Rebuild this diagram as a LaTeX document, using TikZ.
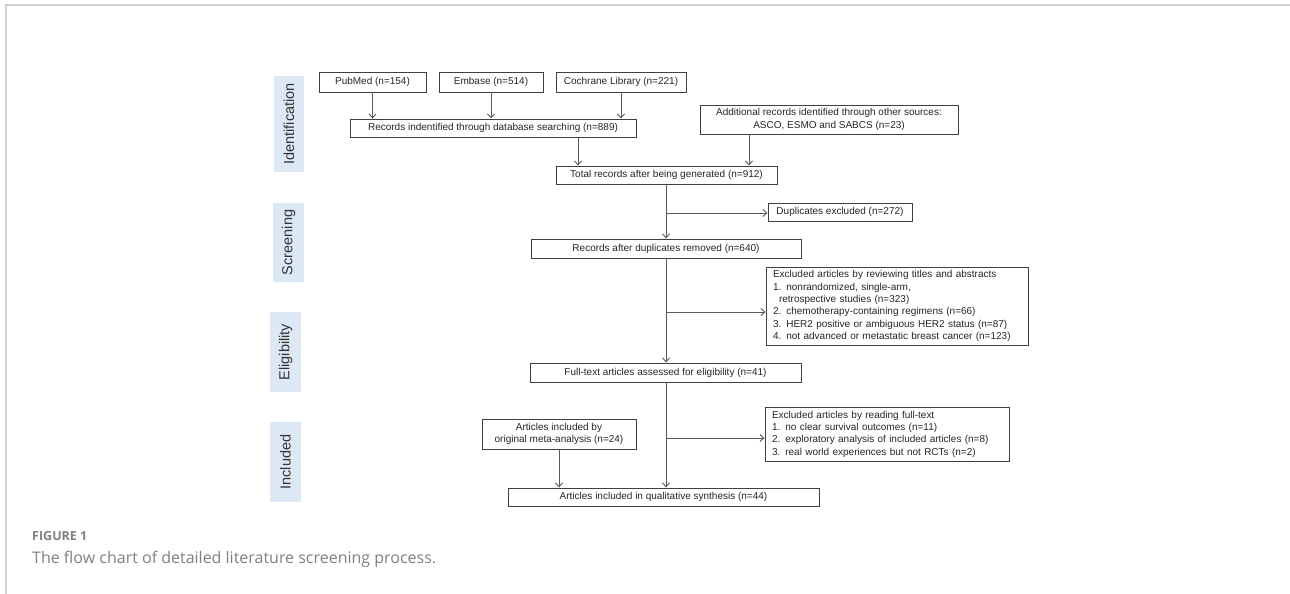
\documentclass[tikz,border=0pt]{standalone}
\usepackage{fontspec}
\setmainfont{Liberation Sans}
\newfontfamily\capfont{Open Sans}
\usetikzlibrary{arrows.meta}
\definecolor{phaseblue}{RGB}{221,232,245}
\definecolor{framegray}{RGB}{208,208,208}
\definecolor{capgray}{RGB}{128,128,128}
\begin{document}
\begin{tikzpicture}[x=1pt,y=-1pt,
  box/.style={draw=black!75,line width=0.9pt,fill=white,inner sep=0pt,align=center,
    font=\fontsize{10}{12.3}\selectfont,text=black!85},
  lbox/.style={box,align=left,inner xsep=7pt},
  conn/.style={draw=black!65,line width=0.9pt},
  arr/.style={conn,-{Straight Barb[length=4pt,width=7pt]}},
  phasebox/.style={fill=phaseblue,draw=none,inner sep=0pt},
  phasetext/.style={rotate=90,font=\fontsize{14.5}{15}\selectfont,text=black!80,inner sep=0pt}]
\useasboundingbox (0,0) rectangle (1290,594);
% frame
\draw[framegray,line width=1.2pt] (6,594) -- (6,5) -- (1290,5);
% phase labels
\node[phasebox,minimum width=30pt,minimum height=96pt] (pI) at (289,124) {};
\node[phasetext] (tI) at (pI.center) {Identification};
\node[phasebox,minimum width=31pt,minimum height=79pt] (pS) at (288.5,242.5) {};
\node[phasetext] (tS) at (pS.center) {Screening};
\node[phasebox,minimum width=31pt,minimum height=80pt] (pE) at (285.5,352) {};
\node[phasetext] (tE) at (pE.center) {Eligibility};
\node[phasebox,minimum width=31pt,minimum height=80pt] (pN) at (285.5,462) {};
\node[phasetext] (tN) at (pN.center) {Included};
% boxes
\node[box,minimum width=107pt,minimum height=20pt] (pub) at (372.5,82) {PubMed (n=154)};
\node[box,minimum width=104pt,minimum height=20pt] (emb) at (491,82) {Embase (n=514)};
\node[box,minimum width=130pt,minimum height=20pt] (coch) at (621,82) {Cochrane Library (n=221)};
\node[box,minimum width=286pt,minimum height=18pt] (rec) at (493,128) {Records indentified through database searching (n=889)};
\node[box,minimum width=258pt,minimum height=29pt] (add) at (829,119.5) {Additional records identified through other sources:\\ASCO, ESMO and SABCS (n=23)};
\node[box,minimum width=221pt,minimum height=18pt] (tot) at (666.5,175) {Total records after being generated (n=912)};
\node[box,minimum width=144pt,minimum height=18pt] (dup) at (840,212) {Duplicates excluded (n=272)};
\node[box,minimum width=270pt,minimum height=19pt] (rdup) at (666,248.5) {Records after duplicates removed (n=640)};
\node[lbox,text width=248pt,minimum height=78pt] (ex1) at (897,306) {Excluded articles by reviewing titles and abstracts\\
1. nonrandomized, single-arm,\\
\hspace*{6pt}retrospective studies (n=323)\\
2. chemotherapy-containing regimens (n=66)\\
3. HER2 positive or ambiguous HER2 status (n=87)\\
4. not advanced or metastatic breast cancer (n=123)};
\node[box,minimum width=271pt,minimum height=19pt] (full) at (665.5,372.5) {Full-text articles assessed for eligibility (n=41)};
\node[lbox,text width=230pt,minimum height=54pt] (ex2) at (887,434) {Excluded articles by reading full-text\\
1. no clear survival outcomes (n=11)\\
2. exploratory analysis of included articles (n=8)\\
3. real world experiences but not RCTs (n=2)};
\node[box,minimum width=154pt,minimum height=30pt] (orig) at (559,434) {Articles included by\\original meta-analysis (n=24)};
\node[box,minimum width=311pt,minimum height=18pt] (fin) at (663.5,497) {Articles included in qualitative synthesis (n=44)};
% connectors
\draw[arr] (pub.south) -- (pub.south |- rec.north);
\draw[arr] (emb.south) -- (emb.south |- rec.north);
\draw[arr] (coch.south) -- (coch.south |- rec.north);
\coordinate (recout) at (578,137);
\draw[arr] (recout) -- (recout |- tot.north);
\coordinate (addout) at (749,134);
\draw[arr] (addout) -- (addout |- tot.north);
\coordinate (totout) at (666,184);
\draw[arr] (totout) -- (totout |- rdup.north);
\coordinate (b1) at (666,213);
\draw[arr] (b1) -- (b1 -| dup.west);
\coordinate (rdupout) at (666,258);
\draw[arr] (rdupout) -- (rdupout |- full.north);
\coordinate (b2) at (666,312);
\draw[arr] (b2) -- (b2 -| ex1.west);
\coordinate (fullout) at (666,382);
\draw[arr] (fullout) -- (fullout |- fin.north);
\coordinate (b3) at (666,438);
\draw[arr] (b3) -- (b3 -| ex2.west);
\draw[arr] (orig.south) -- (orig.south |- fin.north);
% caption
\node[anchor=base west,inner sep=0pt,font=\capfont\bfseries\fontsize{12.5}{15}\selectfont,text=capgray] (fig) at (32,540) {FIGURE 1};
\node[anchor=base west,inner sep=0pt,font=\capfont\fontsize{16}{19}\selectfont,text=capgray] (cap) at (32,563) {The flow chart of detailed literature screening process.};
\end{tikzpicture}
\end{document}
